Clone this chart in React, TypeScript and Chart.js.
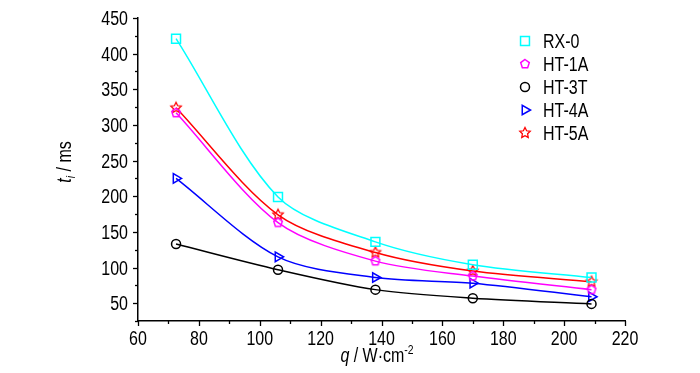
import React, { useEffect, useRef } from 'react';
import { Chart, registerables } from 'chart.js';
import { drawPoint } from 'chart.js/helpers';

Chart.register(...registerables);

// ---- data ----
const qValues = [72.5, 106, 138, 170, 209];
const seriesNames = ['RX-0', 'HT-1A', 'HT-3T', 'HT-4A', 'HT-5A'];
const rx0 = [421, 199, 136, 104, 86];
const ht1a = [317, 163, 109, 88, 69];
const ht3t = [133, 97, 69, 57, 49];
const ht4a = [225, 115, 86, 78, 59];
const ht5a = [324, 174, 121, 95, 80];
const xTickValues = [60, 80, 100, 120, 140, 160, 180, 200, 220];
const yTickValues = [50, 100, 150, 200, 250, 300, 350, 400, 450];

const seriesValues = [rx0, ht1a, ht3t, ht4a, ht5a];
const seriesColors = ['#00FFFF', '#FF00FF', '#000000', '#0000FF', '#FF0000'];

const FONT = '"Liberation Sans", Arial, sans-serif';
const SX = 0.8;

function makeShape(kind: string, color: string, r: number, lw: number) {
  const size = Math.ceil(2 * (r + lw)) + 2;
  const c = document.createElement('canvas');
  c.width = size;
  c.height = size;
  const ctx = c.getContext('2d')!;
  ctx.strokeStyle = color;
  ctx.lineWidth = lw;
  const cx = size / 2;
  const cy = size / 2;
  ctx.beginPath();
  if (kind === 'pentagon') {
    for (let k = 0; k < 5; k++) {
      const a = (-90 + k * 72) * Math.PI / 180;
      const px = cx + r * Math.cos(a);
      const py = cy + r * Math.sin(a);
      if (k === 0) ctx.moveTo(px, py); else ctx.lineTo(px, py);
    }
  } else {
    for (let k = 0; k < 10; k++) {
      const a = (-90 + k * 36) * Math.PI / 180;
      const rr = k % 2 === 0 ? r : r * 0.5;
      const px = cx + rr * Math.cos(a);
      const py = cy + rr * Math.sin(a);
      if (k === 0) ctx.moveTo(px, py); else ctx.lineTo(px, py);
    }
  }
  ctx.closePath();
  ctx.stroke();
  return c;
}

type Part = { t: string; size: number; italic?: boolean; dy?: number };

function partsWidth(ctx: CanvasRenderingContext2D, parts: Part[]) {
  let w = 0;
  parts.forEach(p => {
    ctx.font = (p.italic ? 'italic ' : '') + p.size + 'px ' + FONT;
    w += ctx.measureText(p.t).width * SX;
  });
  return w;
}

// draws narrow (horizontally condensed) text, x = left edge, y = baseline
function drawParts(ctx: CanvasRenderingContext2D, parts: Part[], x: number, y: number) {
  let cx = x;
  parts.forEach(p => {
    ctx.font = (p.italic ? 'italic ' : '') + p.size + 'px ' + FONT;
    ctx.save();
    ctx.translate(cx, y + (p.dy || 0));
    ctx.scale(SX, 1);
    ctx.fillText(p.t, 0, 0);
    ctx.restore();
    cx += ctx.measureText(p.t).width * SX;
  });
}

export default function App() {
  const ref = useRef<HTMLCanvasElement>(null);

  useEffect(() => {
    const canvas = ref.current!;
    const pentagon = makeShape('pentagon', seriesColors[1], 4.5, 1.5);
    const star = makeShape('star', seriesColors[4], 5.5, 1.3);
    const pointStyles: any[] = ['rect', pentagon, 'circle', 'triangle', star];
    const pointRadii = [6.3, 5, 4.5, 5.5, 5];
    const pointRotations = [0, 0, 0, 90, 0];

    const datasets = seriesNames.map((name, i) => ({
      label: name,
      data: qValues.map((q, j) => ({ x: q, y: seriesValues[i][j] })),
      borderColor: seriesColors[i],
      backgroundColor: 'rgba(0,0,0,0)',
      borderWidth: 1.5,
      tension: 0.3,
      pointStyle: pointStyles[i],
      pointRadius: pointRadii[i],
      pointRotation: pointRotations[i],
      pointBorderColor: seriesColors[i],
      pointBackgroundColor: 'rgba(0,0,0,0)',
      pointBorderWidth: 1.5,
    }));

    const decor = {
      id: 'decor',
      afterDraw(chart: any) {
        const ctx = chart.ctx as CanvasRenderingContext2D;
        const xs = chart.scales.x;
        const ys = chart.scales.y;
        const area = chart.chartArea;
        ctx.save();
        ctx.strokeStyle = '#000';
        ctx.lineWidth = 1.3;
        // x ticks
        for (let v = 60; v <= 220; v += 10) {
          const px = Math.round(xs.getPixelForValue(v)) + 0.5;
          const len = v % 20 === 0 ? 5 : 3;
          ctx.beginPath();
          ctx.moveTo(px, area.bottom);
          ctx.lineTo(px, area.bottom + len);
          ctx.stroke();
        }
        // y ticks
        for (let v = 25; v <= 450; v += 25) {
          const py = Math.round(ys.getPixelForValue(v)) + 0.5;
          const len = v % 50 === 0 ? 5 : 3;
          ctx.beginPath();
          ctx.moveTo(area.left, py);
          ctx.lineTo(area.left - len, py);
          ctx.stroke();
        }
        ctx.fillStyle = '#000';
        ctx.textBaseline = 'alphabetic';
        // tick labels
        xTickValues.forEach(v => {
          const parts = [{ t: String(v), size: 20 }];
          const w = partsWidth(ctx, parts);
          drawParts(ctx, parts, xs.getPixelForValue(v) - w / 2, 345);
        });
        yTickValues.forEach(v => {
          const parts = [{ t: String(v), size: 20 }];
          const w = partsWidth(ctx, parts);
          drawParts(ctx, parts, 128 - w, ys.getPixelForValue(v) + 7);
        });
        // y title
        ctx.save();
        ctx.translate(71, 162);
        ctx.rotate(-Math.PI / 2);
        const yParts: Part[] = [
          { t: 't', size: 20, italic: true },
          { t: 'i', size: 13, italic: true, dy: 4 },
          { t: ' / ms', size: 20 },
        ];
        drawParts(ctx, yParts, -partsWidth(ctx, yParts) / 2, 0);
        ctx.restore();
        // x title
        const xParts: Part[] = [
          { t: 'q', size: 20, italic: true },
          { t: ' / W\u00B7cm', size: 20 },
          { t: '-2', size: 13, dy: -8 },
        ];
        drawParts(ctx, xParts, 377 - partsWidth(ctx, xParts) / 2, 362);
        // legend
        chart.data.datasets.forEach((ds: any, i: number) => {
          const ly = 41 + i * 23;
          ctx.strokeStyle = ds.pointBorderColor;
          ctx.fillStyle = 'rgba(0,0,0,0)';
          ctx.lineWidth = 1.5;
          drawPoint(ctx, {
            pointStyle: ds.pointStyle,
            radius: ds.pointRadius,
            rotation: ds.pointRotation,
            borderWidth: 1.5,
          } as any, 525, ly);
          ctx.fillStyle = '#000';
          drawParts(ctx, [{ t: ds.label, size: 20 }], 543, ly + 7);
        });
        ctx.restore();
      },
    };

    const chart = new Chart(canvas, {
      type: 'line',
      data: { datasets: datasets as any },
      options: {
        responsive: false,
        animation: false,
        devicePixelRatio: 1,
        layout: { padding: { left: 0, right: 75, top: 18, bottom: 0 } },
        plugins: { legend: { display: false }, tooltip: { enabled: false } },
        scales: {
          x: {
            type: 'linear',
            min: 60,
            max: 220,
            afterBuildTicks: (s: any) => { s.ticks = xTickValues.map(v => ({ value: v })); },
            afterFit: (s: any) => { s.height = 52; },
            grid: { display: false, drawTicks: false },
            border: { display: true, color: '#000', width: 1.5 },
            ticks: { display: false },
          },
          y: {
            type: 'linear',
            min: 25,
            max: 450,
            afterBuildTicks: (s: any) => { s.ticks = yTickValues.map(v => ({ value: v })); },
            afterFit: (s: any) => { s.width = 138; },
            grid: { display: false, drawTicks: false },
            border: { display: true, color: '#000', width: 1.5 },
            ticks: { display: false },
          },
        },
      },
      plugins: [decor],
    });
    return () => chart.destroy();
  }, []);

  return (
    <canvas
      ref={ref}
      width={700}
      height={373}
      style={{ position: 'absolute', left: 0, top: 0, width: 700, height: 373 }}
    />
  );
}
